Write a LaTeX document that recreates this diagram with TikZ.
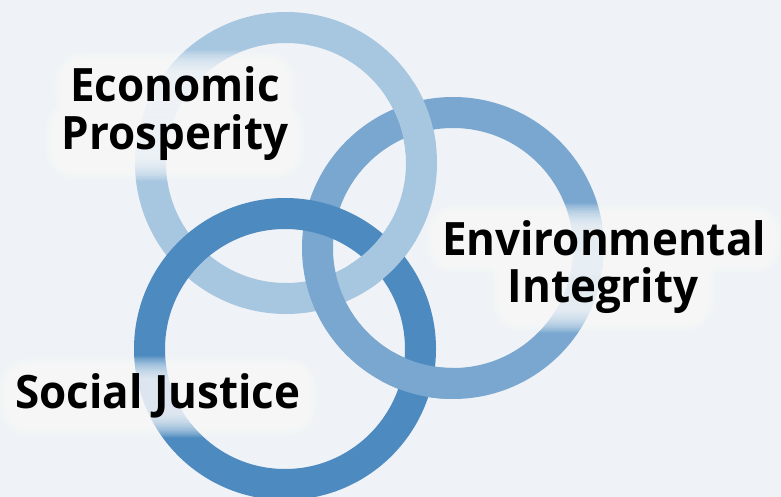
\documentclass[tikz,border=0pt]{standalone}
\usepackage{fontspec}
\setmainfont{Open Sans}
\usetikzlibrary{calc}
\definecolor{bg}{HTML}{EFF2F6}
\definecolor{econ}{HTML}{A7C6E0}
\definecolor{envi}{HTML}{79A7CF}
\definecolor{soc}{HTML}{4D8ABF}
\newcommand\myhalo[1]{%
  \foreach \k in {0,...,14}{%
    \fill[white,fill opacity=0.11,rounded corners={\k*1.6pt+8pt}]
      ($(#1.south west)+(-\k*1.6pt+5pt,-\k*1.6pt+3pt)$) rectangle
      ($(#1.north east)+(\k*1.6pt-5pt,\k*1.6pt-6pt)$);}}
\begin{document}
\begin{tikzpicture}[x=1pt,y=-1pt,
  ring/.style={line width=31pt},
  lbl/.style={font=\bfseries\fontsize{46}{50}\selectfont, anchor=base, inner sep=0pt, text=black}]
\useasboundingbox (0,0) rectangle (781,497);
\fill[bg] (0,0) rectangle (781,497);
\coordinate (cE) at (286,163);
\coordinate (cV) at (453,248);
\coordinate (cS) at (285,349);
% rings
\draw[econ, ring] (cE) circle[radius=135.5pt];
\draw[envi, ring] (cV) circle[radius=135.5pt];
\draw[soc, ring] (cS) circle[radius=135.5pt];
% crossings where an earlier ring lies on top
\begin{scope}
  \clip (384,257) circle[radius=36pt];
  \draw[econ, ring] (cE) circle[radius=135.5pt];
\end{scope}
\begin{scope}
  \clip (414,118) circle[radius=36pt];
  \draw[econ, ring] (cE) circle[radius=135.5pt];
\end{scope}
\begin{scope}
  \clip (417,379) circle[radius=36pt];
  \draw[envi, ring] (cV) circle[radius=135.5pt];
\end{scope}
% label geometry
\path node[lbl, text opacity=0, name=e1] at (175,102) {\scalebox{0.955}[1]{Economic}};
\path node[lbl, text opacity=0, name=e2] at (175,150) {\scalebox{0.955}[1]{Prosperity}};
\path node[lbl, text opacity=0, name=v1] at (604,255) {\scalebox{0.955}[1]{Environmental}};
\path node[lbl, text opacity=0, name=v2] at (603,302) {\scalebox{0.955}[1]{Integrity}};
\path node[lbl, text opacity=0, name=s1] at (158,408) {\scalebox{0.955}[1]{Social Justice}};
\myhalo{e1}\myhalo{e2}\myhalo{v1}\myhalo{v2}\myhalo{s1}
\node[lbl, name=e1t] at (e1.base) {\scalebox{0.955}[1]{Economic}};
\node[lbl, name=e2t] at (e2.base) {\scalebox{0.955}[1]{Prosperity}};
\node[lbl, name=v1t] at (v1.base) {\scalebox{0.955}[1]{Environmental}};
\node[lbl, name=v2t] at (v2.base) {\scalebox{0.955}[1]{Integrity}};
\node[lbl, name=s1t] at (s1.base) {\scalebox{0.955}[1]{Social Justice}};
\end{tikzpicture}
\end{document}
